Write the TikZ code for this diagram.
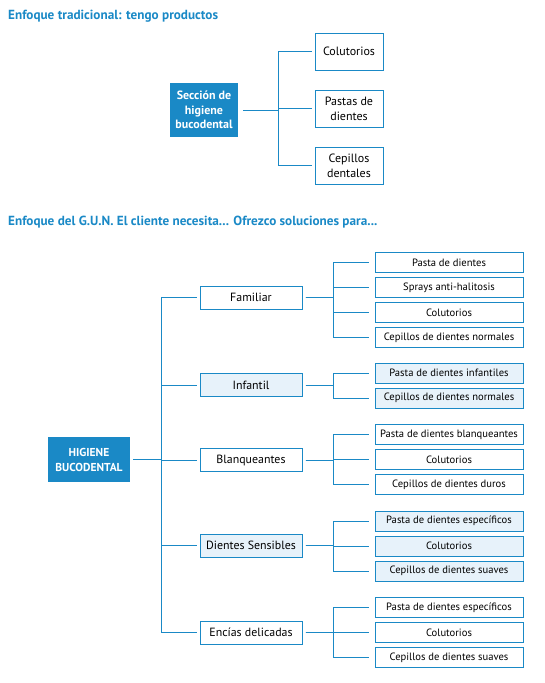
\documentclass[tikz,border=0pt]{standalone}
\usepackage{fontspec}
\setmainfont{PT Sans}
\usepackage{tikz}
\usetikzlibrary{positioning}
\definecolor{gunblue}{HTML}{1A89C6}
\definecolor{gunlight}{HTML}{E7F2FA}
\tikzstyle{title} = [anchor=west, inner sep=0pt, text=gunblue, font=\fontsize{13.2}{15}\selectfont\bfseries]
\tikzstyle{root} = [rectangle, minimum width=68pt, minimum height=54pt, text centered, align=center, fill=gunblue, text=white, inner sep=1pt, font=\fontsize{12}{14.6}\selectfont\bfseries]
\tikzstyle{product} = [rectangle, minimum width=68pt, minimum height=37pt, text centered, align=center, draw=gunblue, line width=1pt, inner sep=1pt, font=\fontsize{12}{15}\selectfont]
\tikzstyle{need} = [rectangle, minimum width=102pt, minimum height=23pt, text centered, draw=gunblue, line width=1pt, font=\fontsize{11.9}{13}\selectfont]
\tikzstyle{item} = [rectangle, minimum width=148pt, minimum height=20pt, text centered, draw=gunblue, line width=1pt, font=\fontsize{10.6}{12}\selectfont]
\tikzstyle{connect} = [draw=gunblue, line width=0.9pt, shorten <=3pt, shorten >=3pt]
\tikzstyle{leaf} = [connect, shorten >=6pt]

\begin{document}
\begin{tikzpicture}[x=1pt, y=-1pt, node distance=25pt]
\useasboundingbox (0,0) rectangle (544,683);

% enfoque tradicional
\node(tit1)[title] at (8,16) {Enfoque tradicional: tengo productos};
\node(sec)[root] at (204,110) {Sección de\\higiene\\bucodental};
\node(colu)[product] at (349,51.5) {Colutorios};
\node(pastas)[product] at (349,108.5) {Pastas de\\dientes};
\node(cepi)[product] at (349,165.5) {Cepillos\\dentales};

\draw [connect, shorten <=5pt] (sec.east) -- ++(40,0) |- (colu.west);
\draw [connect, shorten <=5pt] (sec.east) -- ++(40,0) |- (pastas.west);
\draw [connect, shorten <=5pt] (sec.east) -- ++(40,0) |- (cepi.west);

% enfoque del G.U.N.
\node(tit2)[title] at (8,222) {Enfoque del G.U.N. El cliente necesita... Ofrezco soluciones para...};
\node(hig)[root, minimum width=82pt, minimum height=45pt, font=\fontsize{11.5}{15}\selectfont\bfseries] at (89,459.5) {HIGIENE\\BUCODENTAL};

\node(fam)[need] at (251,297.5) {Familiar};
\node(inf)[need, fill=gunlight] at (251,385) {Infantil};
\node(bla)[need] at (251,460) {Blanqueantes};
\node(sen)[need, fill=gunlight] at (251,545.5) {Dientes Sensibles};
\node(enc)[need] at (251,632.5) {Encías delicadas};

\node(famA)[item] at (449,262.5) {Pasta de dientes};
\node(famB)[item, below of=famA] {Sprays anti-halitosis};
\node(famC)[item, below of=famB] {Colutorios};
\node(famD)[item, below of=famC] {Cepillos de dientes normales};

\node(infA)[item, fill=gunlight] at (449,373) {Pasta de dientes infantiles};
\node(infB)[item, fill=gunlight, below of=infA] {Cepillos de dientes normales};

\node(blaA)[item] at (449,434.5) {Pasta de dientes blanqueantes};
\node(blaB)[item, below of=blaA] {Colutorios};
\node(blaC)[item, below of=blaB] {Cepillos de dientes duros};

\node(senA)[item, fill=gunlight] at (449,521) {Pasta de dientes específicos};
\node(senB)[item, fill=gunlight, below of=senA] {Colutorios};
\node(senC)[item, fill=gunlight, below of=senB] {Cepillos de dientes suaves};

\node(encA)[item] at (449,607.5) {Pasta de dientes específicos};
\node(encB)[item, below of=encA] {Colutorios};
\node(encC)[item, below of=encB] {Cepillos de dientes suaves};

\draw [connect] (hig.east) -- ++(31,0) |- (fam.west);
\draw [connect] (hig.east) -- ++(31,0) |- (inf.west);
\draw [connect] (hig.east) -- ++(31,0) |- (bla.west);
\draw [connect] (hig.east) -- ++(31,0) |- (sen.west);
\draw [connect] (hig.east) -- ++(31,0) |- (enc.west);

\draw [leaf] (fam.east) -- ++(31,0) |- (famA.west);
\draw [leaf] (fam.east) -- ++(31,0) |- (famB.west);
\draw [leaf] (fam.east) -- ++(31,0) |- (famC.west);
\draw [leaf] (fam.east) -- ++(31,0) |- (famD.west);
\draw [leaf] (inf.east) -- ++(31,0) |- (infA.west);
\draw [leaf] (inf.east) -- ++(31,0) |- (infB.west);
\draw [leaf] (bla.east) -- ++(31,0) |- (blaA.west);
\draw [leaf] (bla.east) -- ++(31,0) |- (blaB.west);
\draw [leaf] (bla.east) -- ++(31,0) |- (blaC.west);
\draw [leaf] (sen.east) -- ++(31,0) |- (senA.west);
\draw [leaf] (sen.east) -- ++(31,0) |- (senB.west);
\draw [leaf] (sen.east) -- ++(31,0) |- (senC.west);
\draw [leaf] (enc.east) -- ++(31,0) |- (encA.west);
\draw [leaf] (enc.east) -- ++(31,0) |- (encB.west);
\draw [leaf] (enc.east) -- ++(31,0) |- (encC.west);
\end{tikzpicture}
\end{document}
